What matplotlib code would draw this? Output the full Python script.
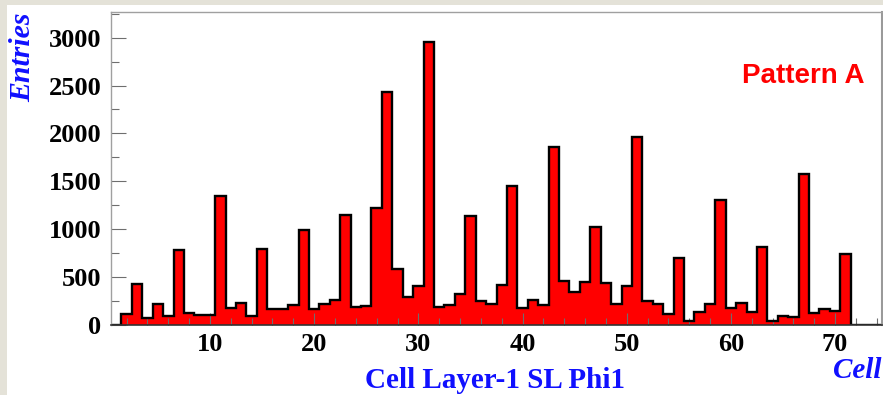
import numpy as np
import matplotlib.pyplot as plt
from matplotlib.patches import Rectangle
from matplotlib.ticker import MultipleLocator

# cell number (bin centres) and entries
cells = np.arange(1, 75)
entries = [
    0, 111, 425, 77, 219, 94, 786, 122, 105, 108,
    1347, 181, 226, 94, 793, 164, 170, 212, 992, 164,
    219, 261, 1148, 184, 198, 1218, 2436, 581, 296, 411,
    2951, 184, 212, 320, 1138, 251, 216, 418, 1455, 174,
    261, 212, 1862, 463, 341, 449, 1027, 435, 219, 411,
    1959, 251, 219, 115, 703, 42, 132, 219, 1305, 177,
    226, 132, 818, 45, 97, 84, 1576, 122, 170, 150,
    741, 0, 0, 0,
]
xticks = [10, 20, 30, 40, 50, 60, 70]
yticks = [0, 500, 1000, 1500, 2000, 2500, 3000]

fig = plt.figure(figsize=(8.83, 3.95), dpi=100, facecolor="#e4e2d8")
# white pad, beige strip left and top
fig.patches.append(Rectangle((7 / 883, 0), 1, 390 / 395, transform=fig.transFigure,
                             facecolor="white", edgecolor="none", zorder=-10))

ax = fig.add_axes([111 / 883, 70 / 395, 771 / 883, 313.3 / 395])
ax.set_facecolor("white")

edges = np.append(cells - 0.5, cells[-1] + 0.5)
ax.stairs(entries, edges, fill=True, color="#ff0000", zorder=2)
ax.stairs(entries, edges, color="black", linewidth=1.7, zorder=3, baseline=0)

ax.set_xlim(0.5, 74.5)
ax.set_ylim(0, 3271)
ax.set_axisbelow(False)  # ticks drawn over the red fill

ax.xaxis.set_major_locator(MultipleLocator(10))
ax.xaxis.set_minor_locator(MultipleLocator(2))
ax.yaxis.set_major_locator(MultipleLocator(500))
ax.yaxis.set_minor_locator(MultipleLocator(250))
ax.set_xticks(xticks)
ax.set_yticks(yticks)

tickfont = dict(family="Liberation Serif", weight="bold", size=19)
ax.set_xticklabels([str(t) for t in xticks], fontdict=tickfont)
ax.set_yticklabels([str(t) for t in yticks], fontdict=tickfont)

ax.tick_params(axis="both", which="both", direction="in", color="#6e6e6e", width=0.8)
ax.tick_params(axis="x", which="major", length=9, pad=6)
ax.tick_params(axis="x", which="minor", length=5)
ax.tick_params(axis="y", which="major", length=11, pad=7)
ax.tick_params(axis="y", which="minor", length=6)
ax.tick_params(top=False, right=False)

for side in ["left", "top"]:
    ax.spines[side].set_color("#a0a0a0")
    ax.spines[side].set_linewidth(1.0)
ax.spines["right"].set_color("#9a9a9a")
ax.spines["right"].set_linewidth(1.5)
ax.spines["bottom"].set_color("#333333")
ax.spines["bottom"].set_linewidth(1.2)
for s in ax.spines.values():
    s.set_zorder(5)

blue = "#1010ff"
fig.text(495 / 883, 1 - 380 / 395, "Cell Layer-1 SL Phi1", color=blue,
         family="Liberation Serif", weight="bold", size=21, ha="center", va="center")
fig.text(882 / 883, 1 - 371 / 395, "Cell", color=blue, family="Liberation Serif",
         weight="bold", style="italic", size=21, ha="right", va="center")
fig.text(23 / 883, 1 - 12 / 395, "Entries", color=blue, family="Liberation Serif",
         weight="bold", style="italic", size=21.5, rotation=90, ha="center", va="top")
fig.text(865 / 883, 1 - 76 / 395, "Pattern A", color="#ff0000", family="Liberation Sans",
         weight="bold", size=20, ha="right", va="center")

fig.savefig("out.png", dpi=100, facecolor=fig.get_facecolor())
